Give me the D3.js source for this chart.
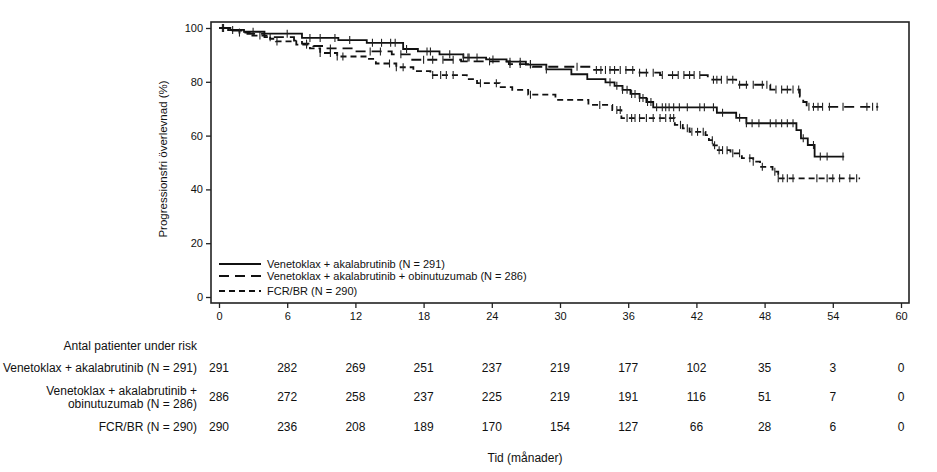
<!DOCTYPE html>
<html lang="sv">
<head>
  <meta charset="UTF-8">
  <title>Progressionsfri överlevnad</title>
  <script src="https://d3js.org/d3.v7.min.js"></script>
  <style>
    body { margin: 0; background: #fff; }
    svg { display: block; font-family: "Liberation Sans", Arial, sans-serif; }
    .axis text { font-size: 11px; fill: #111; }
    .axis line { stroke: #222; stroke-width: 1.3; }
    .axis path { display: none; }
    .legend text { font-size: 11px; fill: #111; }
    .risk text { font-size: 12px; fill: #111; }
    .curve { fill: none; stroke: #111; stroke-width: 1.8; }
    .censor { stroke: #222; stroke-width: 1.1; }
  </style>
</head>
<body>
<svg width="937" height="472"></svg>
<script>
  // step points [months, % progression free]
  const vaSteps = [[0,100],[1,99.3],[2.2,98.6],[4,97.9],[7.3,96.3],[10.5,95.5],[13,94.5],[16.2,92.2],[17.5,91.3],
    [19.4,90.2],[21.5,89],[23.5,88.3],[25.3,87.5],[27,86.4],[28.8,84.6],[31,82.8],[32.4,81],[34,79.8],[34.8,78.5],
    [35.5,77],[36.2,75.5],[37,74],[37.6,72.5],[38.2,70.5],[43.8,68.5],[45.5,66.6],[46.4,64.6],[50.8,62],[51.2,59],
    [51.8,56.5],[52.4,52.2],[55,52.2]];
  const vaoSteps = [[0,100],[1.2,99],[2.5,97.8],[4,96.6],[6.6,95.3],[7.3,94.2],[8.3,93.3],[9.3,92.4],[12,91.3],
    [15.2,90.2],[17,88.2],[21.3,87.6],[25.5,86.6],[27.6,85.6],[33,84.4],[37,83.4],[38.8,82.5],[43,80.8],[45.5,78.9],
    [48.5,77.1],[51.1,74.5],[51.4,72.5],[51.7,70.7],[58,70.7]];
  const fcrSteps = [[0,100],[0.8,99.2],[1.8,98.3],[2.7,97.2],[4.5,96],[5,95],[6.8,93.8],[8,92.4],[8.9,90.7],
    [10.4,89.4],[13,88.5],[13.8,86.8],[15.6,85.4],[17.1,84],[18.6,82.5],[21.8,81],[22.7,79.5],[24.7,78],[25.8,77],
    [27.2,75.2],[29.6,73.3],[32.5,71.4],[34.6,69.5],[35.4,66.5],[40.1,64],[40.8,62.7],[41.4,61.4],[42.8,60.2],
    [43.1,58.3],[43.5,56.4],[43.8,54.6],[45,53.4],[46,51.6],[47,50.3],[47.6,48.4],[48.7,46.6],[49.2,44.1],[56.4,44.1]];

  // censoring times (months)
  const vaCensor = [0.3,1.2,3,6,8,8.9,10.2,11.5,13.5,14.3,15.1,15.5,16.5,18.3,18.6,21.5,22,25.6,26.5,27.4,
    20.3,21.9,22.7,24.1,28.8,34.4,35,35.5,35.9,36.3,36.6,37,37.3,37.7,38,38.5,39,39.3,39.6,40,40.5,41.2,
    42.3,42.7,43.5,44.3,45.8,46.4,46.9,47.5,48.5,49,49.5,50,50.5,51.4,52.3,52.9,53.5,54.9];
  const vaoCensor = [0.4,4.5,7.7,9.8,13.3,14.2,16,18,18.8,19.7,20.6,23.8,25.6,26.5,27.4,31.5,33.2,33.6,34,
    34.4,34.8,35.3,35.8,36.4,37,37.6,38.2,39,39.9,40.4,40.9,41.4,41.8,42.3,43.5,43.8,44.2,44.7,45.2,45.8,46.4,
    47,47.8,48.2,49,49.5,50,50.5,51,51.9,52.3,52.7,53.1,53.7,54.9,57,57.5,57.9];
  const fcrCensor = [1.8,3.6,5.1,7.7,8.9,9.8,10.4,10.9,15,15.6,16.2,18.8,19.5,20,20.6,23,24.4,27.4,33.5,35,
    35.3,35.9,36.3,36.6,37,37.6,38.2,38.8,39.3,39.7,40,40.6,41.2,41.6,42.1,42.6,43.4,43.6,44,44.3,44.7,45.2,
    45.8,46.7,47,47.8,48.9,49.2,49.6,50,50.5,52.6,53.5,54,54.6,55.5,56.1];

  const seriesNames = ["Venetoklax + akalabrutinib (N = 291)",
    "Venetoklax + akalabrutinib + obinutuzumab (N = 286)", "FCR/BR (N = 290)"];
  const xTicks = [0, 6, 12, 18, 24, 30, 36, 42, 48, 54, 60];
  const yTicks = [0, 20, 40, 60, 80, 100];
  const riskVa = [291, 282, 269, 251, 237, 219, 177, 102, 35, 3, 0];
  const riskVao = [286, 272, 258, 237, 225, 219, 191, 116, 51, 7, 0];
  const riskFcr = [290, 236, 208, 189, 170, 154, 127, 66, 28, 6, 0];

  const svg = d3.select("svg");
  const x = d3.scaleLinear().domain([0, 60]).range([219, 901]);
  const y = d3.scaleLinear().domain([0, 100]).range([297, 28]);
  const frame = {left: 211, right: 909, top: 22, bottom: 303};

  const dashes = ["none", "10,6", "6,4"];
  const curves = [
    {steps: vaSteps, censor: vaCensor},
    {steps: vaoSteps, censor: vaoCensor},
    {steps: fcrSteps, censor: fcrCensor}
  ];

  // axes
  svg.append("g").attr("class", "axis")
    .attr("transform", `translate(${frame.left},0)`)
    .call(d3.axisLeft(y).tickValues(yTicks).tickSize(5).tickPadding(3));
  svg.append("g").attr("class", "axis")
    .attr("transform", `translate(0,${frame.bottom})`)
    .call(d3.axisBottom(x).tickValues(xTicks).tickSize(5).tickPadding(4));

  svg.append("rect")
    .attr("x", frame.left).attr("y", frame.top)
    .attr("width", frame.right - frame.left).attr("height", frame.bottom - frame.top)
    .attr("fill", "none").attr("stroke", "#222").attr("stroke-width", 1.6);

  svg.append("text")
    .attr("transform", `translate(167,159) rotate(-90)`)
    .attr("text-anchor", "middle")
    .attr("font-size", 11.5).attr("fill", "#111")
    .text("Progressionsfri överlevnad (%)");

  const line = d3.line().x(d => x(d[0])).y(d => y(d[1])).curve(d3.curveStepAfter);

  function survAt(steps, t) {
    let s = steps[0][1];
    for (const p of steps) { if (p[0] <= t) s = p[1]; }
    return s;
  }

  curves.forEach((c, i) => {
    svg.append("path").attr("class", "curve")
      .attr("d", line(c.steps))
      .attr("stroke-dasharray", dashes[i]);
    svg.selectAll(null).data(c.censor).enter().append("line")
      .attr("class", "censor")
      .attr("x1", d => x(d)).attr("x2", d => x(d))
      .attr("y1", d => y(survAt(c.steps, d)) - 4)
      .attr("y2", d => y(survAt(c.steps, d)) + 4);
  });

  // legend
  const legY = [264, 276, 291];
  const legend = svg.append("g").attr("class", "legend");
  seriesNames.forEach((name, i) => {
    legend.append("line")
      .attr("x1", 219).attr("x2", 261).attr("y1", legY[i]).attr("y2", legY[i])
      .attr("stroke", "#111").attr("stroke-width", 1.8)
      .attr("stroke-dasharray", dashes[i]);
    legend.append("text")
      .attr("x", 267).attr("y", legY[i]).attr("dy", "0.35em")
      .text(name);
  });

  // risk table
  const risk = svg.append("g").attr("class", "risk");
  risk.append("text").attr("x", 197).attr("y", 346).attr("dy", "0.35em")
    .attr("text-anchor", "end").text("Antal patienter under risk");
  const rows = [
    {labels: [seriesNames[0]], y: 368, values: riskVa},
    {labels: ["Venetoklax + akalabrutinib +", "obinutuzumab (N = 286)"], y: 397, values: riskVao},
    {labels: [seriesNames[2]], y: 427, values: riskFcr}
  ];
  rows.forEach(r => {
    r.labels.forEach((l, j) => {
      risk.append("text")
        .attr("x", 197)
        .attr("y", r.y + (r.labels.length > 1 ? (j - 0.5) * 13 : 0))
        .attr("dy", "0.35em").attr("text-anchor", "end").text(l);
    });
    risk.selectAll(null).data(r.values).enter().append("text")
      .attr("x", (d, i) => x(xTicks[i])).attr("y", r.y).attr("dy", "0.35em")
      .attr("text-anchor", "middle").attr("font-size", 12.5)
      .text(d => d);
  });

  svg.append("text")
    .attr("x", 525).attr("y", 458).attr("dy", "0.35em")
    .attr("text-anchor", "middle").attr("font-size", 12).attr("fill", "#111")
    .text("Tid (månader)");
</script>
</body>
</html>
